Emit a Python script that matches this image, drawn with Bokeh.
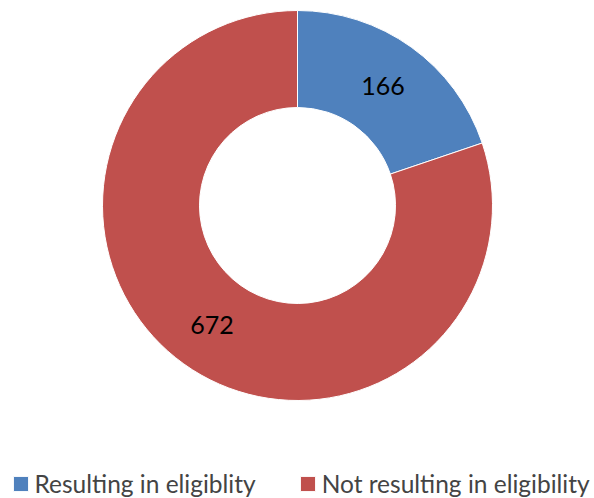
import numpy as np
from bokeh.plotting import figure
from bokeh.models import Range1d, Legend, LegendItem, ColumnDataSource
from bokeh.core.properties import value
from bokeh.embed import file_html
from bokeh.resources import INLINE

categories = ["Resulting in eligiblity", "Not resulting in eligibility"]
counts = [166, 672]
colors = ["#4F81BD", "#C0504D"]

W, H = 594, 498
p = figure(width=W, height=H, output_backend="svg", toolbar_location=None,
           x_range=Range1d(0, W), y_range=Range1d(0, H), min_border=0)
p.axis.visible = False
p.grid.visible = False
p.outline_line_color = None

cx, cy = 297, 293
r_out, r_in = 195, 98

vals = np.array(counts, dtype=float)
frac = vals / vals.sum()
# clockwise from top
ends = np.pi / 2 - np.concatenate([[0], np.cumsum(frac)[:-1]]) * 2 * np.pi
starts = ends - frac * 2 * np.pi
mids = (starts + ends) / 2
r_mid = (r_out + r_in) / 2

renderers = []
for i in range(len(counts)):
    r = p.annular_wedge(x=cx, y=cy, inner_radius=r_in, outer_radius=r_out,
                        start_angle=starts[i], end_angle=ends[i],
                        fill_color=colors[i], line_color="white", line_width=1)
    renderers.append(r)

src = ColumnDataSource(dict(x=cx + r_mid * np.cos(mids), y=cy + r_mid * np.sin(mids),
                            t=[str(c) for c in counts]))
p.text(x="x", y="y", text="t", source=src, text_align="center", text_baseline="middle",
       text_font=value("Lato"), text_font_size="25px", text_color="black")

legend = Legend(items=[LegendItem(label=categories[i], renderers=[renderers[i]]) for i in range(len(counts))],
                orientation="horizontal", location=(10.5, 0),
                glyph_width=19, glyph_height=19, label_standoff=5, spacing=42,
                label_text_font="Lato", label_text_font_size="24.5px",
                border_line_color=None, background_fill_alpha=0, padding=0, margin=0)
p.add_layout(legend, "center")

open("out.html", "w").write(file_html(p, INLINE))
